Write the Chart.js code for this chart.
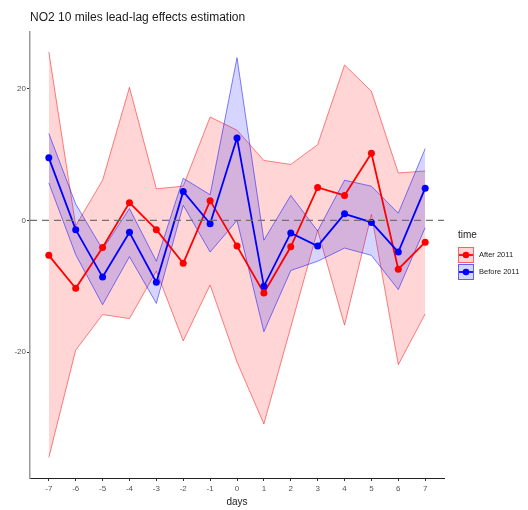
<!DOCTYPE html>
<html>
<head>
<meta charset="utf-8">
<script src="https://cdn.jsdelivr.net/npm/chart.js@4"></script>
<style>
  html, body { margin: 0; padding: 0; background: #fff; }
  #wrap { width: 528px; height: 510px; position: relative; }
</style>
</head>
<body>
<div id="wrap"><canvas id="chart"></canvas></div>
<script>
const days = [-7, -6, -5, -4, -3, -2, -1, 0, 1, 2, 3, 4, 5, 6, 7];

const after      = [-5.3, -10.3, -4.1, 2.7, -1.4, -6.5, 3.0, -3.9, -11.0, -4.0, 5.0, 3.8, 10.2, -7.4, -3.3];
const afterUpper = [25.6, -0.8, 6.1, 20.2, 4.8, 5.2, 15.7, 13.7, 9.1, 8.5, 11.5, 23.6, 19.6, 7.2, 7.5];
const afterLower = [-36.0, -19.7, -14.3, -14.9, -7.7, -18.3, -9.8, -21.5, -30.9, -16.2, -1.5, -15.9, 0.9, -21.9, -14.2];

const before      = [9.5, -1.4, -8.6, -1.8, -9.4, 4.4, -0.5, 12.5, -10.0, -1.9, -3.9, 1.0, -0.3, -4.8, 4.9];
const beforeUpper = [13.2, 2.5, -4.4, 1.8, -6.2, 6.4, 3.9, 24.7, -3.0, 3.8, -1.6, 6.1, 5.2, 1.1, 10.9];
const beforeLower = [5.7, -5.2, -12.8, -5.5, -12.6, 2.3, -4.8, 0.0, -16.9, -7.6, -6.2, -4.2, -5.3, -10.5, -1.1];

const xTicks = [-7, -6, -5, -4, -3, -2, -1, 0, 1, 2, 3, 4, 5, 6, 7];
const yTicks = [-20, 0, 20];
const seriesNames = ['After 2011', 'Before 2011'];

const FONT = '"Liberation Sans", Arial, sans-serif';
const RED = '#ff0000', BLUE = '#0000ff';
const RED_FILL = 'rgba(255, 0, 0, 0.165)', BLUE_FILL = 'rgba(0, 0, 255, 0.165)';
const RED_EDGE = 'rgba(255, 0, 0, 0.55)', BLUE_EDGE = 'rgba(0, 0, 255, 0.55)';

const pts = arr => days.map((d, i) => ({ x: d, y: arr[i] }));

function edge(arr, color) {
    return { data: pts(arr), borderColor: color, borderWidth: 0.9, pointRadius: 0, fill: false, tension: 0 };
}

function series(name, arr, color) {
    return {
        label: name, data: pts(arr), borderColor: color, backgroundColor: color,
        borderWidth: 1.8, pointRadius: 3.5, pointBorderWidth: 0, fill: false, tension: 0
    };
}

// zero reference line, title and legend
const extras = {
    id: 'extras',
    afterDatasetsDraw(chart) {
        const { ctx, chartArea, scales } = chart;
        const y0 = scales.y.getPixelForValue(0);
        ctx.save();
        ctx.strokeStyle = '#707070';
        ctx.lineWidth = 1.2;
        ctx.setLineDash([7, 5]);
        ctx.beginPath();
        ctx.moveTo(chartArea.left, y0);
        ctx.lineTo(chartArea.right, y0);
        ctx.stroke();
        ctx.restore();
    },
    afterDraw(chart) {
        const { ctx, chartArea } = chart;
        ctx.save();
        ctx.fillStyle = '#1a1a1a';
        ctx.font = '12px ' + FONT;
        ctx.textBaseline = 'middle';
        ctx.textAlign = 'left';
        ctx.fillText('NO2 10 miles lead-lag effects estimation', chartArea.left, 18);

        const lx = chartArea.right + 14;
        ctx.font = '10px ' + FONT;
        ctx.fillText('time', lx, 235);
        const cols = [[RED, RED_FILL, RED_EDGE], [BLUE, BLUE_FILL, BLUE_EDGE]];
        seriesNames.forEach((name, i) => {
            const top = 247 + i * 17;
            const [c, f, e] = cols[i];
            ctx.fillStyle = f;
            ctx.fillRect(lx, top, 16, 16);
            ctx.strokeStyle = e;
            ctx.lineWidth = 1;
            ctx.strokeRect(lx + 0.5, top + 0.5, 15, 15);
            ctx.strokeStyle = c;
            ctx.lineWidth = 1.8;
            ctx.beginPath();
            ctx.moveTo(lx + 1, top + 8);
            ctx.lineTo(lx + 15, top + 8);
            ctx.stroke();
            ctx.fillStyle = c;
            ctx.beginPath();
            ctx.arc(lx + 8, top + 8, 3.3, 0, Math.PI * 2);
            ctx.fill();
            ctx.fillStyle = '#1a1a1a';
            ctx.font = '7.5px ' + FONT;
            ctx.fillText(name, lx + 21, top + 8);
        });
        ctx.restore();
    }
};

// Chart.js paints the last dataset first, so lines come first here
new Chart(document.getElementById('chart'), {
    type: 'line',
    data: {
        datasets: [
            series(seriesNames[1], before, BLUE),
            series(seriesNames[0], after, RED),
            Object.assign(edge(beforeUpper, BLUE_EDGE), { fill: { target: 3 }, backgroundColor: BLUE_FILL }),
            edge(beforeLower, BLUE_EDGE),
            Object.assign(edge(afterUpper, RED_EDGE), { fill: { target: 5 }, backgroundColor: RED_FILL }),
            edge(afterLower, RED_EDGE)
        ]
    },
    options: {
        responsive: true,
        maintainAspectRatio: false,
        animation: false,
        layout: { padding: { top: 32, right: 84, left: 0, bottom: 0 } },
        plugins: { legend: { display: false }, tooltip: { enabled: false }, title: { display: false } },
        scales: {
            x: {
                type: 'linear', min: -7.7, max: 7.7,
                afterBuildTicks: axis => { axis.ticks = xTicks.map(v => ({ value: v })); },
                afterFit: axis => { axis.height = 32; },
                grid: { drawOnChartArea: false, drawTicks: true, tickLength: 3, color: '#333' },
                border: { display: true, color: '#222', width: 1 },
                ticks: { font: { family: FONT, size: 8 }, color: '#555', padding: 3, maxRotation: 0, autoSkip: false },
                title: { display: true, text: 'days', font: { family: FONT, size: 10 }, color: '#1a1a1a', padding: { top: 0, bottom: 2 } }
            },
            y: {
                type: 'linear', min: -39.1, max: 28.6,
                afterBuildTicks: axis => { axis.ticks = yTicks.map(v => ({ value: v })); },
                afterFit: axis => { axis.width = 30; },
                grid: { drawOnChartArea: false, drawTicks: true, tickLength: 3, color: '#333' },
                border: { display: true, color: '#9a9a9a', width: 1.5 },
                ticks: { font: { family: FONT, size: 8 }, color: '#555', padding: 1 }
            }
        }
    },
    plugins: [extras]
});
</script>
</body>
</html>
